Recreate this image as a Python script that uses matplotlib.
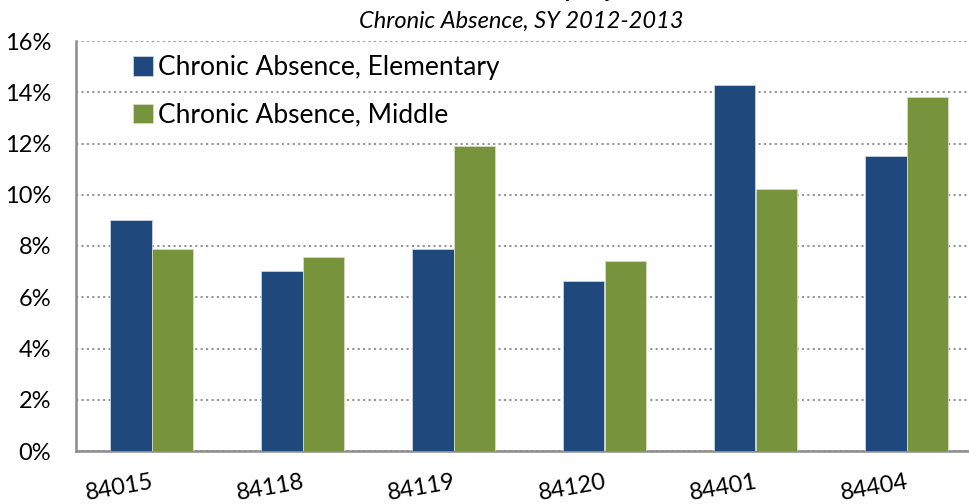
import numpy as np
import matplotlib.pyplot as plt
from matplotlib.ticker import FuncFormatter

zip_codes = ["84015", "84118", "84119", "84120", "84401", "84404"]
elementary = [9.03, 7.02, 7.88, 6.63, 14.30, 11.51]
middle = [7.87, 7.56, 11.90, 7.41, 10.22, 13.83]

azul = "#1F497D"
verde = "#77933C"

plt.rcParams["font.family"] = ["Lato", "DejaVu Sans"]

fig = plt.figure(figsize=(9.69, 5.04), dpi=100)
ax = fig.add_axes([76 / 969, 53 / 504, 906 / 969, 410 / 504])

x = np.arange(len(zip_codes))
largura = 0.278
ax.bar(x - largura / 2, elementary, largura, color=azul, edgecolor="#c9d3e0",
       linewidth=0.6, label="Chronic Absence, Elementary", zorder=3)
ax.bar(x + largura / 2, middle, largura, color=verde, edgecolor="#d4dcc4",
       linewidth=0.6, label="Chronic Absence, Middle", zorder=3)

ax.set_xlim(-0.5, len(zip_codes) - 0.5)
ax.set_ylim(0, 16)
ax.set_yticks(np.arange(0, 17, 2))
ax.yaxis.set_major_formatter(FuncFormatter(lambda v, p: f"{v:.0f}%"))
ax.grid(axis="y", linestyle=(0, (1.2, 1.8)), color="#8c8c8c", linewidth=1.3, zorder=0)

ax.set_xticks(x)
ax.set_xticklabels(zip_codes, rotation=10, ha="right", rotation_mode="anchor")
ax.tick_params(axis="x", length=0, pad=15, labelsize=17)
ax.tick_params(axis="y", length=0, pad=18, labelsize=17)

for lado in ["top", "right"]:
    ax.spines[lado].set_visible(False)
for lado in ["left", "bottom"]:
    ax.spines[lado].set_color("#8c8c8c")
    ax.spines[lado].set_linewidth(1.8)

leg = ax.legend(loc="upper left", bbox_to_anchor=(120 / 969, 1 - 42 / 504),
                bbox_transform=fig.transFigure, frameon=False, fontsize=19,
                handlelength=0.75, handleheight=0.75, handletextpad=0.2,
                labelspacing=0.85, borderpad=0)

# titulo principal (cortado no topo) e subtitulo
fig.text(0.535, 1.02, "Chronic Absence by Zip Code", ha="center", va="center",
         fontsize=18, fontweight="bold")
fig.text(0.538, 1 - 21 / 504, "Chronic Absence, SY 2012-2013", ha="center",
         va="center", fontsize=17, style="italic")

plt.savefig("out.png", dpi=100)
